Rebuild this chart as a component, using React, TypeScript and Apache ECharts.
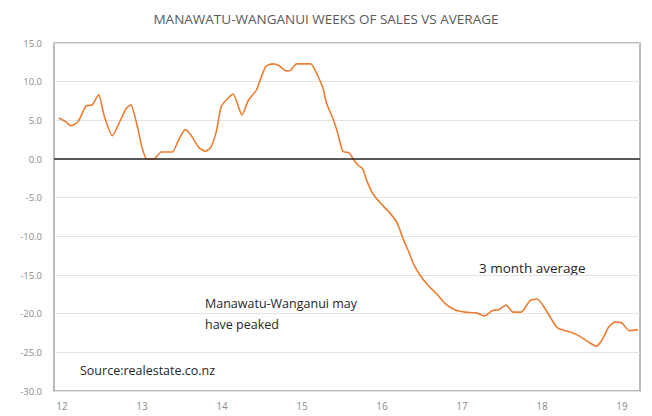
import React, { useEffect, useRef } from "react";
import * as echarts from "echarts";

const titleText = "MANAWATU-WANGANUI WEEKS OF SALES VS AVERAGE";
const yearTicks = [12, 13, 14, 15, 16, 17, 18, 19];

const years = [
  11.96, 12.05, 12.11, 12.2, 12.3, 12.38, 12.43, 12.46, 12.53, 12.63,
  12.73, 12.8, 12.86, 12.94, 13.0, 13.06, 13.15, 13.24, 13.38, 13.45,
  13.54, 13.61, 13.71, 13.79, 13.86, 13.93, 13.99, 14.08, 14.14, 14.25,
  14.33, 14.43, 14.48, 14.55, 14.63, 14.71, 14.8, 14.86, 14.93, 15.03,
  15.11, 15.2, 15.26, 15.31, 15.38, 15.44, 15.51, 15.59, 15.64, 15.7,
  15.76, 15.81, 15.88, 15.98, 16.1, 16.19, 16.26, 16.33, 16.4, 16.48,
  16.58, 16.68, 16.79, 16.91, 17.04, 17.18, 17.28, 17.38, 17.46, 17.55,
  17.64, 17.74, 17.85, 17.94, 18.01, 18.1, 18.19, 18.29, 18.39, 18.5,
  18.6, 18.68, 18.75, 18.83, 18.91, 19.0, 19.09, 19.2,
];

const weeksVsAverage = [
  5.3, 4.8, 4.3, 4.8, 6.85, 7.0, 7.9, 8.3, 5.5, 3.0,
  5.0, 6.5, 7.0, 4.3, 1.5, 0.0, 0.0, 0.9, 0.9, 2.3,
  3.8, 3.1, 1.5, 1.0, 1.5, 3.6, 6.8, 7.9, 8.4, 5.7,
  7.6, 8.9, 10.3, 12.0, 12.3, 12.1, 11.4, 11.5, 12.3, 12.3,
  12.3, 10.7, 9.2, 7.1, 5.4, 3.6, 1.0, 0.8, 0.0, -0.8,
  -1.3, -2.8, -4.4, -5.7, -7.0, -8.3, -10.2, -11.9, -13.7, -15.1,
  -16.4, -17.4, -18.7, -19.5, -19.8, -19.9, -20.3, -19.6, -19.5, -18.9,
  -19.8, -19.8, -18.3, -18.1, -18.9, -20.4, -21.8, -22.2, -22.5, -23.1,
  -23.8, -24.2, -23.4, -21.8, -21.1, -21.2, -22.2, -22.1,
];

const seriesName = "3 month average";
const noteLines = ["Manawatu-Wanganui may", "have peaked"];
const sourceText = "Source:realestate.co.nz";

const FONT = "'Open Sans', 'Noto Sans', sans-serif";

export default function App() {
  const ref = useRef<HTMLDivElement>(null);

  useEffect(() => {
    if (!ref.current) return;
    const chart = echarts.init(ref.current, null, { renderer: "svg" });
    const data = years.map((y, i) => [y, weeksVsAverage[i]]);
    chart.setOption({
      animation: false,
      backgroundColor: "#ffffff",
      textStyle: { fontFamily: FONT },
      title: {
        text: titleText,
        left: "center",
        top: 7,
        textStyle: {
          fontFamily: FONT,
          fontSize: 13.5,
          fontWeight: "normal",
          color: "#595959",
        },
      },
      grid: {
        left: 54,
        right: 12,
        top: 43,
        bottom: 25,
        show: true,
        borderColor: "#a6a6a6",
        borderWidth: 1.5,
        backgroundColor: "transparent",
      },
      xAxis: {
        type: "value",
        min: 11.9,
        max: 19.225,
        axisLine: { show: false },
        axisTick: { show: false },
        splitLine: { show: false },
        axisLabel: {
          customValues: yearTicks,
          color: "#8c8c8c",
          fontSize: 10,
          margin: 10,
          formatter: (v: number) => String(Math.round(v)),
        },
      },
      yAxis: {
        type: "value",
        min: -30,
        max: 15,
        interval: 5,
        axisLine: { show: false },
        axisTick: { show: false },
        splitLine: { show: true, lineStyle: { color: "#e3e3e3", width: 1 } },
        axisLabel: {
          color: "#8c8c8c",
          fontSize: 9.5,
          margin: 12,
          formatter: (v: number) => v.toFixed(1),
        },
      },
      series: [
        {
          name: seriesName,
          type: "line",
          data,
          showSymbol: false,
          smooth: 0.2,
          lineStyle: { color: "#ED7D31", width: 1.6 },
          markLine: {
            silent: true,
            symbol: "none",
            label: { show: false },
            lineStyle: { color: "#262626", width: 1.5, type: "solid" },
            data: [{ yAxis: 0 }],
          },
          z: 3,
        },
      ],
      graphic: [
        {
          type: "text",
          left: 479,
          top: 261,
          style: { text: seriesName, fontFamily: FONT, fontSize: 13.5, fill: "#262626" },
        },
        {
          type: "text",
          left: 205,
          top: 293,
          style: {
            text: noteLines.join("\n"),
            fontFamily: FONT,
            fontSize: 12.5,
            lineHeight: 21,
            fill: "#262626",
          },
        },
        {
          type: "text",
          left: 80,
          top: 364,
          style: { text: sourceText, fontFamily: FONT, fontSize: 12.5, fill: "#262626" },
        },
      ],
    });
    return () => chart.dispose();
  }, []);

  return <div ref={ref} style={{ width: 652, height: 416, position: "absolute", left: 0, top: 0 }} />;
}
